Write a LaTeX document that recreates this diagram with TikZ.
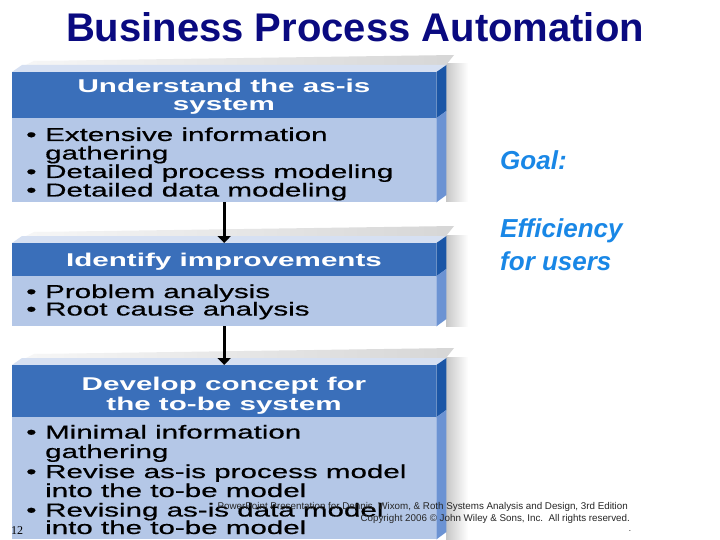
\documentclass[tikz,border=0pt]{standalone}
\usepackage{fontspec}
\setmainfont{Liberation Sans}
\newfontfamily\widefont[FakeStretch=1.6]{Liberation Sans}
\newfontfamily\bodyfont[FakeStretch=1.58,FakeBold=0.6]{Liberation Sans}
\newfontfamily\numfont{Liberation Serif}
\usetikzlibrary{arrows.meta}
\definecolor{titleblue}{RGB}{10,10,128}
\definecolor{goalblue}{RGB}{25,135,230}
\definecolor{hdrblue}{RGB}{58,111,186}
\definecolor{bodyblue}{RGB}{180,199,231}
\definecolor{sidehdr}{RGB}{27,86,166}
\definecolor{sidebody}{RGB}{108,147,211}
\definecolor{topface}{RGB}{214,224,242}
\tikzset{
  hdrbox/.style={fill=hdrblue, draw=none, inner sep=0, anchor=north west, minimum width=424pt},
  bodybox/.style={fill=bodyblue, draw=none, inner sep=0, anchor=north west, minimum width=424pt},
  hdrtxt/.style={anchor=base, inner sep=0, text=white, font=\widefont\bfseries\fontsize{18.5}{18.5}\selectfont},
  bodytxt/.style={anchor=base west, inner sep=0, text=black, font=\bodyfont\fontsize{18.7}{18.7}\selectfont},
  goaltxt/.style={anchor=base west, inner sep=0, text=goalblue, font=\bfseries\itshape\fontsize{26}{26}\selectfont},
  foottxt/.style={anchor=base east, inner sep=0, text=black!85, font=\fontsize{9.8}{10}\selectfont},
  arr/.style={line width=2.6pt, -{Triangle[width=13pt,length=7pt]}}
}
\newcommand\bul{\makebox[19pt][l]{\textbullet}}
% #1 name, #2 top y, #3 header bottom y, #4 body bottom y
\newcommand\drawprocbox[4]{%
  \shade[left color=black!22, right color=white] (446,#2-8) rectangle (468,#4);
  \shade[left color=black!3, right color=black!16] (12,#2) -- (34,#2-11) -- (454,#2-17) -- (446,#2-7) -- cycle;
  \fill[topface] (12,#2) -- (22,#2-7) -- (446,#2-7) -- (436,#2) -- cycle;
  \node[hdrbox, minimum height={(#3-#2)*1pt}] (#1h) at (12,#2) {};
  \node[bodybox, minimum height={(#4-#3)*1pt}] (#1b) at (12,#3) {};
  \fill[sidehdr] (#1h.north east) -- ++(10,-7) -- ++(0,{#3-#2}) -- (#1h.south east) -- cycle;
  \fill[sidebody] (#1b.north east) -- ++(10,-7) -- ++(0,{#4-#3}) -- (#1b.south east) -- cycle;
}
\begin{document}
\begin{tikzpicture}[x=1pt,y=-1pt]
\path[use as bounding box, fill=white] (0,0) rectangle (720,540);

\node[anchor=base, inner sep=0, text=titleblue, font=\bfseries\fontsize{40}{40}\selectfont] (title) at (355,42) {Business Process Automation};

\drawprocbox{one}{72}{118}{202}
\drawprocbox{two}{243}{276}{326}
\drawprocbox{three}{365}{417}{539}

% box 1 text
\node[hdrtxt] (t1a) at (224,93) {Understand the as-is};
\node[hdrtxt] (t1b) at (224,111) {system};
\node[bodytxt] (l1a) at (26,141) {\bul Extensive information};
\node[bodytxt] (l1b) at (45,159.5) {gathering};
\node[bodytxt] (l1c) at (26,178) {\bul Detailed process modeling};
\node[bodytxt] (l1d) at (26,196.5) {\bul Detailed data modeling};

% box 2 text
\node[hdrtxt] (t2a) at (224,266.5) {Identify improvements};
\node[bodytxt] (l2a) at (26,298) {\bul Problem analysis};
\node[bodytxt] (l2b) at (26,315.5) {\bul Root cause analysis};

% box 3 text
\node[hdrtxt] (t3a) at (224,390) {Develop concept for};
\node[hdrtxt] (t3b) at (224,410) {the to-be system};
\node[bodytxt] (l3a) at (26,438.5) {\bul Minimal information};
\node[bodytxt] (l3b) at (45,458) {gathering};
\node[bodytxt] (l3c) at (26,478) {\bul Revise as-is process model};
\node[bodytxt] (l3d) at (45,497) {into the to-be model};
\node[bodytxt] (l3e) at (26,516.5) {\bul Revising as-is data model};
\node[bodytxt] (l3f) at (45,534) {into the to-be model};

% arrows
\draw[arr] (oneb.south) -- (twoh.north);
\draw[arr] (twob.south) -- (threeh.north);

% goal text
\node[goaltxt] (g1) at (500,170) {Goal:};
\node[goaltxt] (g2) at (500,237) {Efficiency};
\node[goaltxt] (g3) at (500,270) {for users};

% footer
\node[foottxt] (f1) at (628,509) {PowerPoint Presentation for Dennis, Wixom, \& Roth Systems Analysis and Design, 3rd Edition};
\node[foottxt] (f2) at (630,521) {Copyright 2006 \textcopyright{} John Wiley \& Sons, Inc.\ \ All rights reserved.};
\node[anchor=base west, inner sep=0, font=\numfont\fontsize{12}{12}\selectfont] (pg) at (11,534) {12};
\node[anchor=base, inner sep=0, font=\fontsize{8}{8}\selectfont] (dot) at (630,531) {.};
\end{tikzpicture}
\end{document}
